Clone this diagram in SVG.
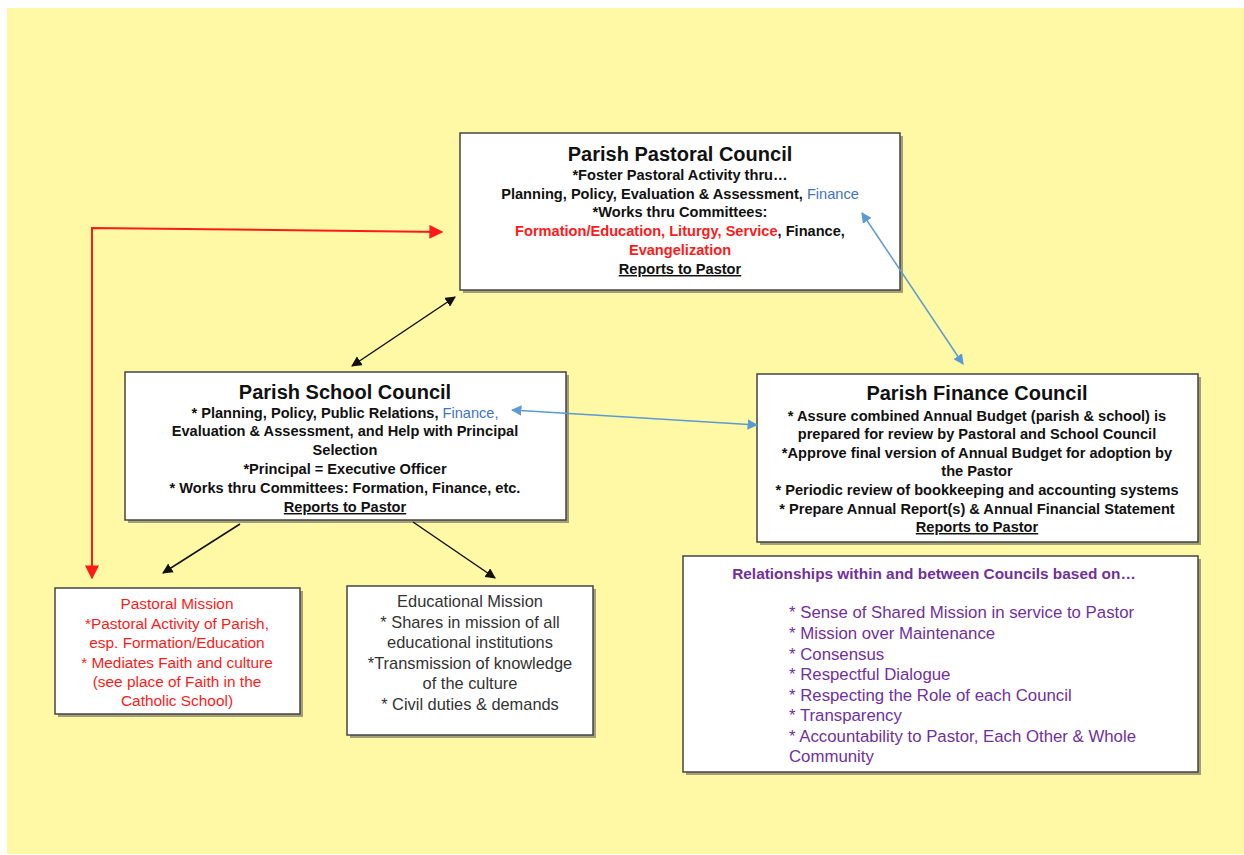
<svg xmlns="http://www.w3.org/2000/svg" width="1244" height="855" viewBox="0 0 1244 855">
<style>
.box{fill:#fff;stroke:#444;stroke-width:1.5}
.sh{fill:#555;opacity:0.55}
.t{font-family:"Liberation Sans",Arial,sans-serif;text-anchor:middle}
.title{font-size:20px;font-weight:bold;fill:#111}
.b{font-size:14.6px;font-weight:bold;fill:#111}
.red{fill:#FF1A1A}
.blue{fill:#4472C4}
.pm{font-size:15.4px;fill:#FF1A1A}
.em{font-size:16.4px;fill:#333}
.rel{font-family:"Liberation Sans",Arial,sans-serif;font-size:16.8px;fill:#7030A0}
.u{text-decoration:underline}
</style>
<defs>
<marker id="ab" viewBox="0 0 10 10" refX="9" refY="5" markerWidth="7" markerHeight="7" orient="auto-start-reverse"><path d="M0,0L10,5L0,10z" fill="#111"/></marker>
<marker id="ar" viewBox="0 0 10 10" refX="9" refY="5" markerWidth="7" markerHeight="7" orient="auto-start-reverse"><path d="M0,0L10,5L0,10z" fill="#FF1A1A"/></marker>
<marker id="au" viewBox="0 0 10 10" refX="9" refY="5" markerWidth="7" markerHeight="7" orient="auto-start-reverse"><path d="M0,0L10,5L0,10z" fill="#5B9BD5"/></marker>
</defs>
<rect x="7" y="8" width="1237" height="846" fill="#FFF8A5"/>

<g id="pastoral-council">
<rect class="sh" x="463" y="136" width="440" height="157"/>
<rect class="box" x="460" y="133" width="440" height="157"/>
<text class="t title" x="680" y="161">Parish Pastoral Council</text>
<text class="t b" x="680" y="180">*Foster Pastoral Activity thru…</text>
<text class="t b" x="680" y="199">Planning, Policy, Evaluation &amp; Assessment, <tspan class="blue" font-weight="normal">Finance</tspan></text>
<text class="t b" x="680" y="217">*Works thru Committees:</text>
<text class="t b" x="680" y="236"><tspan class="red">Formation/Education, Liturgy, Service</tspan>, Finance,</text>
<text class="t b red" x="680" y="255">Evangelization</text>
<text class="t b u" x="680" y="274">Reports to Pastor</text>
</g>

<g id="school-council">
<rect class="sh" x="128" y="375" width="441" height="148"/>
<rect class="box" x="125" y="372" width="441" height="148"/>
<text class="t title" x="345" y="399">Parish School Council</text>
<text class="t b" x="345" y="418">* Planning, Policy, Public Relations, <tspan class="blue" font-weight="normal">Finance,</tspan></text>
<text class="t b" x="345" y="436">Evaluation &amp; Assessment, and Help with Principal</text>
<text class="t b" x="345" y="455">Selection</text>
<text class="t b" x="345" y="474">*Principal = Executive Officer</text>
<text class="t b" x="345" y="493">* Works thru Committees: Formation, Finance, etc.</text>
<text class="t b u" x="345" y="512">Reports to Pastor</text>
</g>

<g id="finance-council">
<rect class="sh" x="760" y="377" width="441" height="168"/>
<rect class="box" x="757" y="374" width="441" height="168"/>
<text class="t title" x="977" y="400">Parish Finance Council</text>
<text class="t b" x="977" y="421">* Assure combined Annual Budget (parish &amp; school) is</text>
<text class="t b" x="977" y="439">prepared for review by Pastoral and School Council</text>
<text class="t b" x="977" y="458">*Approve final version of Annual Budget for adoption by</text>
<text class="t b" x="977" y="476">the Pastor</text>
<text class="t b" x="977" y="495">* Periodic review of bookkeeping and accounting systems</text>
<text class="t b" x="977" y="514">* Prepare Annual Report(s) &amp; Annual Financial Statement</text>
<text class="t b u" x="977" y="532">Reports to Pastor</text>
</g>

<g id="pastoral-mission">
<rect class="sh" x="58" y="591" width="245" height="126"/>
<rect class="box" x="55" y="588" width="245" height="126"/>
<text class="t pm" x="177" y="609">Pastoral Mission</text>
<text class="t pm" x="177" y="629">*Pastoral Activity of Parish,</text>
<text class="t pm" x="177" y="648">esp. Formation/Education</text>
<text class="t pm" x="177" y="668">* Mediates Faith and culture</text>
<text class="t pm" x="177" y="687">(see place of Faith in the</text>
<text class="t pm" x="177" y="706">Catholic School)</text>
</g>

<g id="educational-mission">
<rect class="sh" x="350" y="589" width="246" height="149"/>
<rect class="box" x="347" y="586" width="246" height="149"/>
<text class="t em" x="470" y="607">Educational Mission</text>
<text class="t em" x="470" y="628">* Shares in mission of all</text>
<text class="t em" x="470" y="648">educational institutions</text>
<text class="t em" x="470" y="669">*Transmission of knowledge</text>
<text class="t em" x="470" y="689">of the culture</text>
<text class="t em" x="470" y="710">* Civil duties &amp; demands</text>
</g>

<g id="relationships">
<rect class="sh" x="686" y="559" width="515" height="216"/>
<rect class="box" x="683" y="556" width="515" height="216"/>
<text class="t" x="934" y="579" font-size="15.4" font-weight="bold" fill="#7030A0">Relationships within and between Councils based on…</text>
<text class="rel" x="789" y="618">* Sense of Shared Mission in service to Pastor</text>
<text class="rel" x="789" y="639">* Mission over Maintenance</text>
<text class="rel" x="789" y="660">* Consensus</text>
<text class="rel" x="789" y="680">* Respectful Dialogue</text>
<text class="rel" x="789" y="701">* Respecting the Role of each Council</text>
<text class="rel" x="789" y="721">* Transparency</text>
<text class="rel" x="789" y="742">* Accountability to Pastor, Each Other &amp; Whole</text>
<text class="rel" x="789" y="762">Community</text>
</g>

<g id="connectors" fill="none">
<path d="M92,578 V228 L442,232" stroke="#FF1A1A" stroke-width="2" marker-start="url(#ar)" marker-end="url(#ar)"/>
<line x1="352" y1="366" x2="455" y2="297" stroke="#111" stroke-width="1.5" marker-start="url(#ab)" marker-end="url(#ab)"/>
<line x1="862" y1="213" x2="963" y2="364" stroke="#5B9BD5" stroke-width="1.5" marker-start="url(#au)" marker-end="url(#au)"/>
<line x1="512" y1="410" x2="757" y2="425" stroke="#5B9BD5" stroke-width="1.5" marker-start="url(#au)" marker-end="url(#au)"/>
<line x1="240" y1="524" x2="163" y2="573" stroke="#111" stroke-width="1.5" marker-end="url(#ab)"/>
<line x1="413" y1="522" x2="495" y2="578" stroke="#111" stroke-width="1.5" marker-end="url(#ab)"/>
</g>
</svg>
